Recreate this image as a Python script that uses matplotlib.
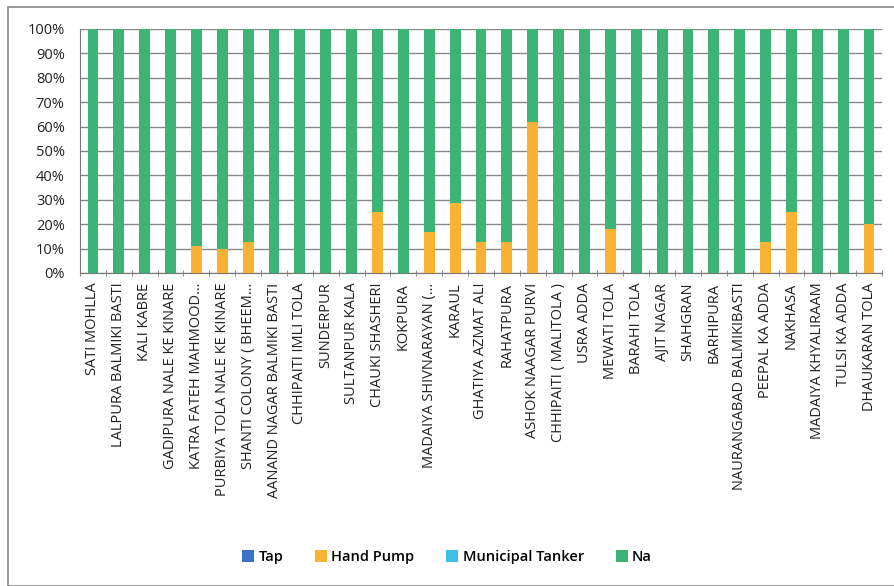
import matplotlib
matplotlib.use("Agg")
import matplotlib.pyplot as plt
import numpy as np
from matplotlib.patches import Rectangle

categories = ["SATI MOHLLA", "LALPURA BALMIKI BASTI", "KALI KABRE", "GADIPURA NALE KE KINARE",
              "KATRA FATEH MAHMOOD\u2026", "PURBIYA TOLA NALE KE KINARE", "SHANTI COLONY ( BHEEM\u2026",
              "AANAND NAGAR BALMIKI BASTI", "CHHIPAITI IMLI TOLA", "SUNDERPUR", "SULTANPUR KALA",
              "CHAUKI SHASHERI", "KOKPURA", "MADAIYA SHIVNARAYAN (\u2026", "KARAUL", "GHATIYA AZMAT ALI",
              "RAHATPURA", "ASHOK NAAGAR PURVI", "CHHIPAITI ( MALITOLA )", "USRA ADDA", "MEWATI TOLA",
              "BARAHI TOLA", "AJIT NAGAR", "SHAHGRAN", "BARHIPURA", "NAURANGABAD BALMIKIBASTI",
              "PEEPAL KA ADDA", "NAKHASA", "MADAIYA KHYALIRAAM", "TULSI KA ADDA", "DHAUKARAN TOLA"]
tap = [0] * 31
hand_pump = [0, 0, 0, 0, 11, 10, 12.5, 0, 0, 0, 0, 25, 0, 17, 28.5, 12.5, 12.5, 62, 0, 0, 18,
             0, 0, 0, 0, 0, 12.5, 25, 0, 0, 20]
tanker = [0] * 31
na = [100 - h for h in hand_pump]

series = [("Tap", tap, "#3a73c6"), ("Hand Pump", hand_pump, "#f9b233"),
          ("Municipal Tanker", tanker, "#3fbfe3"), ("Na", na, "#3db475")]

plt.rcParams['font.family'] = ['Open Sans', 'DejaVu Sans']
fig = plt.figure(figsize=(8.94, 5.86), dpi=100)
ax = fig.add_axes([80/894, 1-273/586, 802/894, 244/586])

x = np.arange(len(categories))
bottom = np.zeros(len(categories))
for name, vals, col in series:
    v = np.array(vals, dtype=float)
    ax.bar(x, v, 0.42, bottom=bottom, color=col, label=name, zorder=3)
    bottom += v

ax.set_xlim(-0.5, len(categories) - 0.5)
ax.set_ylim(0, 100)
ax.set_yticks(np.arange(0, 101, 10))
ax.set_yticklabels([f"{t}%" for t in range(0, 101, 10)], fontsize=10.5, color="#222222")
ax.yaxis.grid(True, color="#888888", linewidth=1, zorder=0)
ax.tick_params(axis='y', length=0, pad=11)
ax.set_xticks(x)
ax.set_xticklabels(categories, rotation=90, fontsize=10.5, color="#222222")
ax.set_xticks(np.arange(-0.5, len(categories), 1), minor=True)
ax.tick_params(axis='x', which='major', length=0, pad=7)
ax.tick_params(axis='x', which='minor', length=5, color="#777777", direction='inout')
for s in ['top', 'right']:
    ax.spines[s].set_visible(False)
ax.spines['bottom'].set_color("#777777")
ax.spines['left'].set_color("#777777")

handles, labels = ax.get_legend_handles_labels()
fig.legend(handles, labels, loc='center', bbox_to_anchor=(447/894, 1-557/586), ncol=4,
           frameon=False, fontsize=10.5, handlelength=0.8, handleheight=0.8,
           handletextpad=0.3, columnspacing=2.2,
           prop={'weight': 'semibold', 'size': 10.5})

fig.patches.append(Rectangle((8/894, 0), 1, 1 - 7/586, transform=fig.transFigure,
                             fill=False, edgecolor="#888888", linewidth=1.2))

fig.savefig("out.png", dpi=100)
